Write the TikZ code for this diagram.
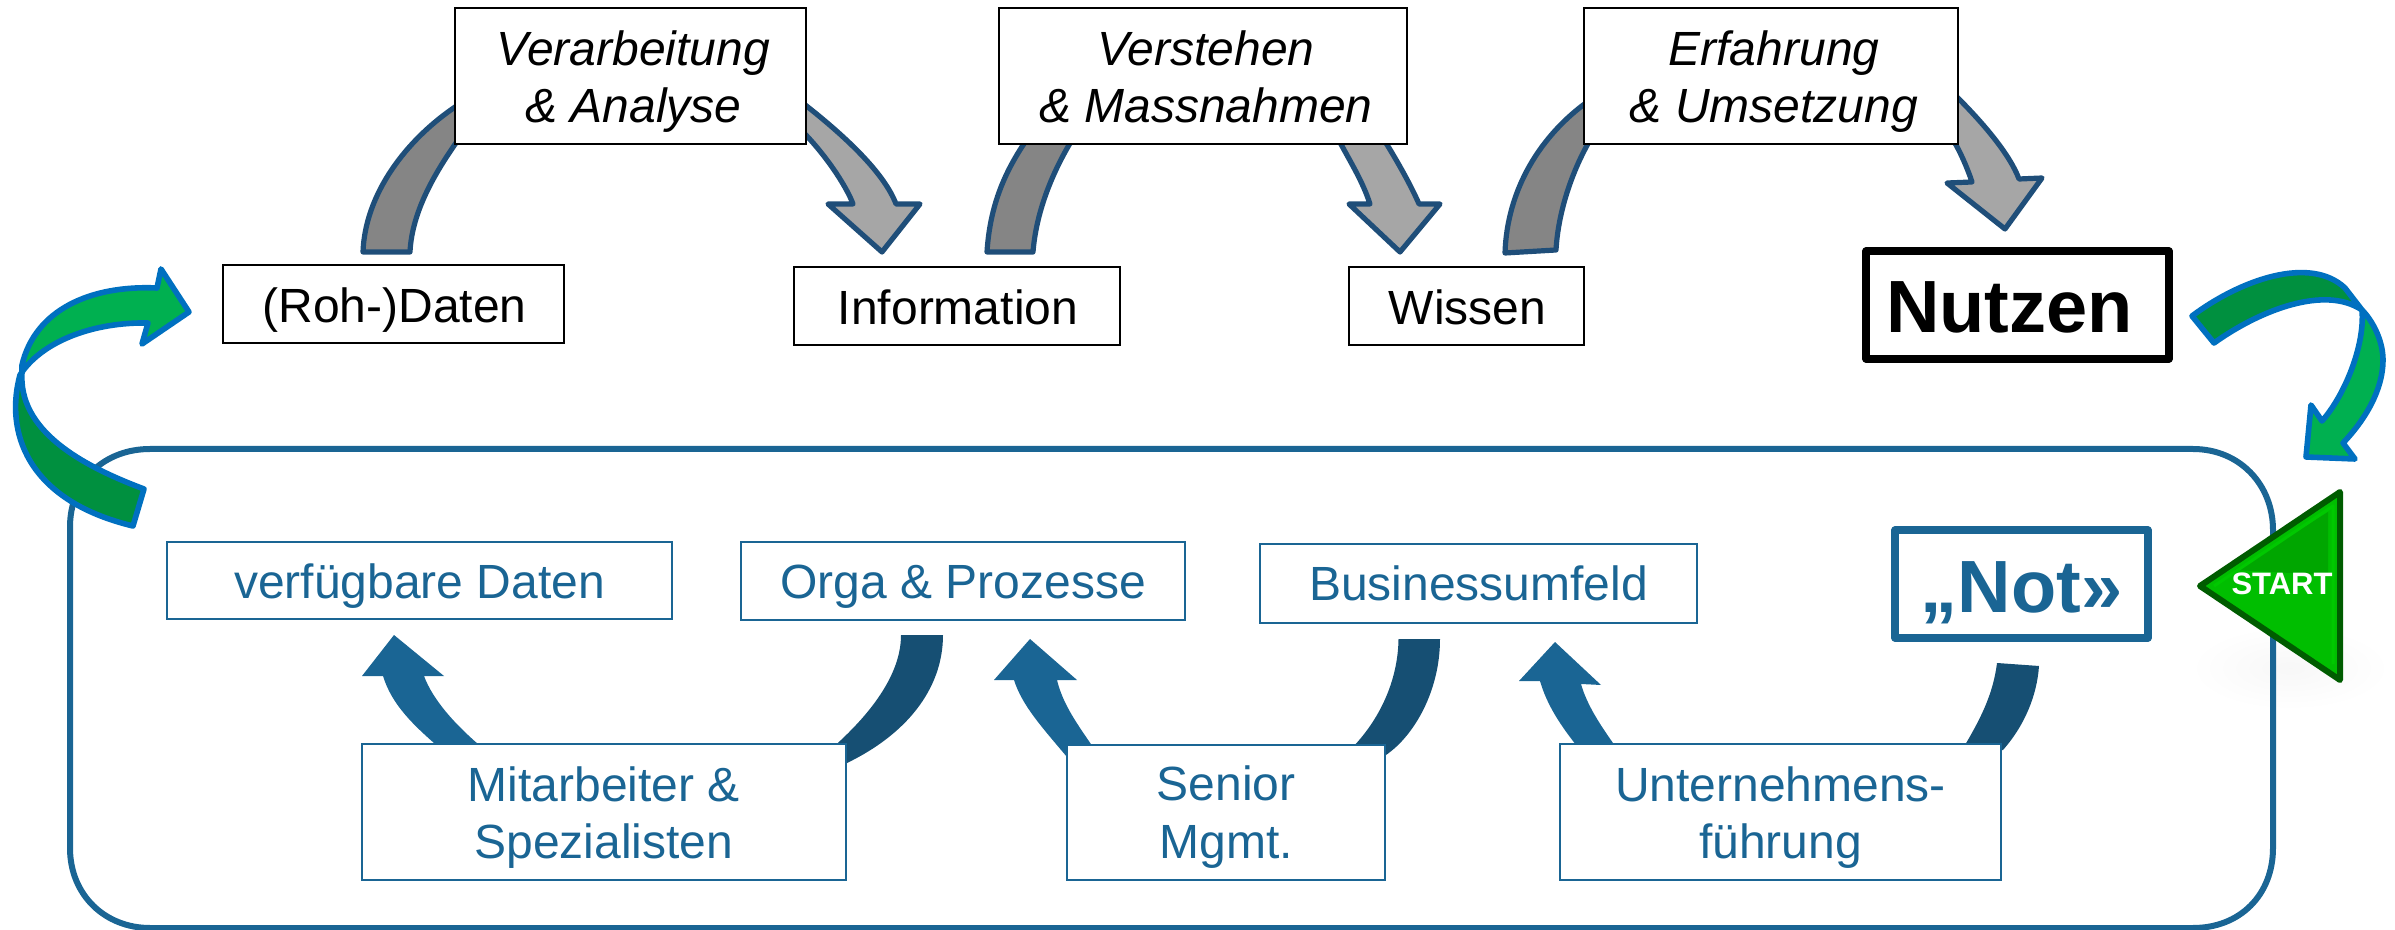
\documentclass[tikz,border=0pt]{standalone}
\usepackage{fontspec}
\setmainfont{Liberation Sans}
\definecolor{bluetxt}{HTML}{1A6594}
\definecolor{bluedark}{HTML}{164F73}
\definecolor{grayline}{HTML}{1F4E79}
\definecolor{grayleft}{HTML}{858585}
\definecolor{grayright}{HTML}{A6A6A6}
\definecolor{greenline}{HTML}{0070C0}
\definecolor{greenlight}{HTML}{00B050}
\definecolor{greendark}{HTML}{00903F}
\definecolor{startedge}{HTML}{005C00}
\definecolor{startfill}{HTML}{00BE00}
\definecolor{startdark}{HTML}{00A600}
\definecolor{startrim}{HTML}{00C800}
% #1 style, #2 name, #3-#6 box x1 y1 x2 y2 (px), #7 baseline of first line (px), #8 x shift of the text (px), #9 text
\newcommand\bbox[9][]{%
  \pgfmathsetmacro\bw{(#5-#3)*0.5}\pgfmathsetmacro\bh{(#6-#4)*0.5}%
  \pgfmathsetmacro\bb{(#7-(#4+#6)/2)*0.5}\pgfmathsetmacro\bs{(#8)}%
  \node[#1,minimum width=\bw pt,minimum height=\bh pt] (#2) at ({(#3+#5)/2},{(#4+#6)/2})
    {\raisebox{-\bb pt}[0pt][0pt]{\makebox[0pt]{\hspace{\bs pt}\begin{tabular}[t]{@{}c@{}}#9\end{tabular}}}};}
\tikzset{
  txtbig/.style={font=\fontsize{24}{28.5}\selectfont,inner sep=0pt},
  blackbox/.style={txtbig,draw=black,line width=1pt,fill=white,text=black},
  itbox/.style={blackbox,font=\fontsize{24}{28.5}\selectfont\itshape},
  bluebox/.style={txtbig,draw=bluetxt,line width=1pt,fill=white,text=bluetxt},
  heavy/.style={font=\fontsize{37}{40}\selectfont\bfseries,inner sep=0pt,line width=3.6pt,line join=round,fill=white},
  grayl/.style={fill=grayleft,draw=grayline,line width=2.6pt,line join=round},
  grayr/.style={fill=grayright,draw=grayline,line width=2.6pt,line join=round},
  bluel/.style={fill=bluetxt},
  blued/.style={fill=bluedark},
  greenl/.style={fill=greenlight,draw=greenline,line width=2.8pt,line join=round},
  greend/.style={fill=greendark,draw=greenline,line width=2.8pt,line join=round},
}
\begin{document}
\begin{tikzpicture}[x=0.5pt,y=-0.5pt]
\useasboundingbox (0,0) rectangle (2395,930);
% soft shadow below START
\shade[inner color=black!3,outer color=white] (2290,668) ellipse [x radius=100,y radius=42];
% large frame
\draw[bluetxt,line width=3pt] (70,527) .. controls (70,480) and (105,449) .. (150,449) -- (2193,449) .. controls (2240,449) and (2273,485) .. (2273,530) -- (2273,848) .. controls (2273,895) and (2240,928) .. (2193,928) -- (150,928) .. controls (105,928) and (70,895) .. (70,848) -- cycle;
% gray block arrows, top row
\draw[grayl] (363,252) .. controls (365,195) and (405,140) .. (458,105) -- (458,140) .. controls (437,170) and (412,210) .. (410,252) -- cycle;
\draw[grayr] (804,104) .. controls (850,140) and (885,175) .. (896,204) -- (920,204) -- (882,252) -- (828,204) -- (853,204) .. controls (848,190) and (830,160) .. (804,133) -- cycle;
\draw[grayl] (987,252) .. controls (990,205) and (1005,170) .. (1030,135) -- (1075,135) .. controls (1050,175) and (1036,215) .. (1033,252) -- cycle;
\draw[grayr] (1336,135) -- (1381,135) .. controls (1400,165) and (1413,190) .. (1419,204) -- (1440,204) -- (1400,252) -- (1349,204) -- (1370,204) .. controls (1362,180) and (1352,165) .. (1336,135) -- cycle;
\draw[grayl] (1505,253) .. controls (1507,190) and (1540,135) .. (1590,100) -- (1590,140) .. controls (1570,175) and (1558,215) .. (1556,250) -- cycle;
\draw[grayr] (1956,96) .. controls (1985,125) and (2010,155) .. (2019,179) -- (2042,178) -- (2005,229) -- (1947,183) -- (1972,182) .. controls (1968,170) and (1960,150) .. (1950,135) -- cycle;
% blue block arrows, bottom row
\fill[blued] (901,635) -- (943,635) .. controls (943,690) and (905,735) .. (847,763) -- (830,750) .. controls (870,715) and (901,675) .. (901,635) -- cycle;
\fill[bluel] (394,635) -- (444,676) -- (424,676) .. controls (433,700) and (455,725) .. (485,750) -- (442,750) .. controls (413,725) and (392,705) .. (383,676) -- (362,676) -- cycle;
\fill[blued] (1398.5,639) -- (1440,639) .. controls (1440,690) and (1415,735) .. (1386,755) -- (1350,750) .. controls (1380,720) and (1398,680) .. (1398.5,639) -- cycle;
\fill[bluel] (1030,639) -- (1077,680) -- (1057,680) .. controls (1063,705) and (1078,725) .. (1095,750) -- (1067,757) .. controls (1040,725) and (1022,705) .. (1014,680) -- (994,680) -- cycle;
\fill[blued] (1997,663) -- (2039,666) .. controls (2037,695) and (2025,725) .. (2003,750) -- (1962,750) .. controls (1980,720) and (1993,695) .. (1997,663) -- cycle;
\fill[bluel] (1555,642) -- (1601,685) -- (1581,684) .. controls (1587,705) and (1600,725) .. (1618,750) -- (1580,750) .. controls (1560,725) and (1547,705) .. (1540,681) -- (1519,681) -- cycle;
% green curved arrows
\draw[greend] (20,375) .. controls (5,430) and (25,500) .. (133,526) -- (144,489) .. controls (80,465) and (18,430) .. (22,372) -- cycle;
\draw[greenl] (22,372) .. controls (45,340) and (95,322) .. (148,323) -- (142,344) -- (189,312) -- (161,269) -- (157,288) .. controls (90,285) and (35,310) .. (22,365) -- cycle;
\draw[greend] (2192,316) .. controls (2240,280) and (2310,255) .. (2345,288) -- (2362,310) .. controls (2325,285) and (2260,310) .. (2214,343) -- cycle;
\draw[greenl] (2362,310) .. controls (2372,320) and (2383,340) .. (2383,360) .. controls (2383,390) and (2365,420) .. (2343,443) -- (2355,459) -- (2306,457) -- (2311,405) -- (2322,421) .. controls (2345,395) and (2365,345) .. (2362,310) -- cycle;
% boxes
\bbox[itbox]{verarb}{455}{8}{806}{144}{66}{3}{Verarbeitung\\\& Analyse}
\bbox[itbox]{verst}{999}{8}{1407}{144}{66}{3}{Verstehen\\\& Massnahmen}
\bbox[itbox]{erfahr}{1584}{8}{1958}{144}{66}{3}{Erfahrung\\\& Umsetzung}
\bbox[blackbox]{daten}{223}{265}{564}{343}{323}{1}{(Roh-)Daten}
\bbox[blackbox]{info}{794}{267}{1120}{345}{325}{1}{Information}
\bbox[blackbox]{wissen}{1349}{267}{1584}{345}{325}{1}{Wissen}
\bbox[heavy,draw=black,text=black]{nutzen}{1866}{251}{2169}{359}{333}{-8}{Nutzen}
\bbox[bluebox]{verf}{167}{542}{672}{619}{599}{0}{verfügbare Daten}
\bbox[bluebox]{orga}{741}{542}{1185}{620}{599}{0}{Orga \& Prozesse}
\bbox[bluebox]{bus}{1260}{544}{1697}{623}{601}{0}{Businessumfeld}
\bbox[heavy,draw=bluetxt,text=bluetxt]{not}{1895}{530}{2148}{638}{612}{0}{„Not»}
\bbox[bluebox]{mit}{362}{744}{846}{880}{801}{0}{Mitarbeiter \&\\Spezialisten}
\bbox[bluebox]{senior}{1067}{745}{1385}{880}{801}{0}{Senior\\Mgmt.}
\bbox[bluebox]{untern}{1560}{744}{2001}{880}{801}{0}{Unternehmens-\\führung}
% START triangle
\draw[draw=startedge,line width=3pt,line join=round,fill=startfill] (2200,586) -- (2340,492) -- (2340,680) -- cycle;
\fill[startdark] (2235,570) -- (2328,512) -- (2328,575) -- cycle;
\draw[startrim,line width=1.5pt,line join=round] (2214,586) -- (2333,506) -- (2333,664);
\node[font=\fontsize{15.5}{18}\selectfont\bfseries,text=white,inner sep=0pt] (start) at (2282,584) {START};
\end{tikzpicture}
\end{document}
